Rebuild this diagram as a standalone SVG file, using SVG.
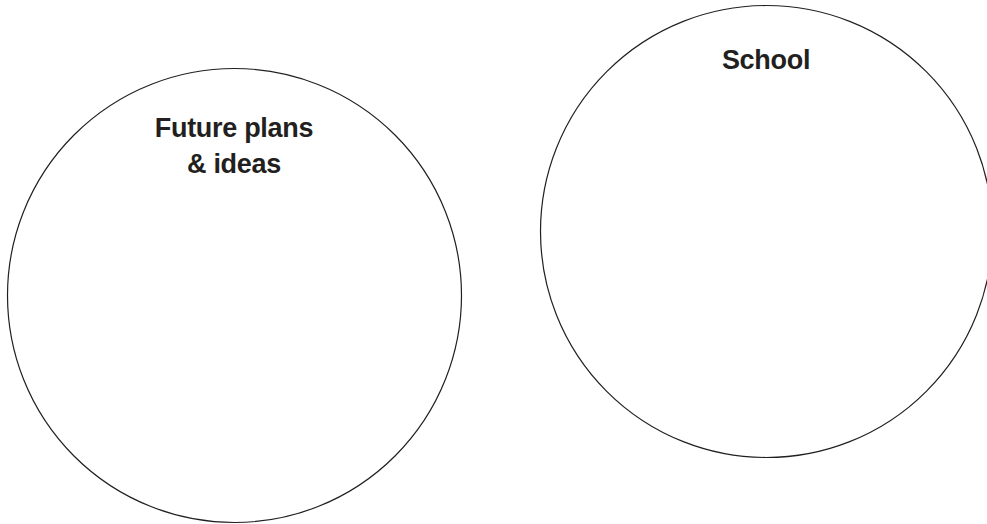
<svg xmlns="http://www.w3.org/2000/svg" width="987" height="524" viewBox="0 0 987 524">
<style>
.c{fill:none;stroke:#231f20;stroke-width:1.2}
.t{font-family:"Liberation Sans",Arial,sans-serif;font-weight:bold;font-size:27px;letter-spacing:-0.3px;fill:#231f20;text-anchor:middle}
</style>
<rect width="987" height="524" fill="#fff"/>
<g id="future">
<circle class="c" cx="234.5" cy="295.5" r="227"/>
<text class="t" x="234" y="137">Future plans</text>
<text class="t" x="234" y="173">&amp; ideas</text>
</g>
<g id="school">
<circle class="c" cx="766.5" cy="231.5" r="226"/>
<text class="t" x="766" y="69">School</text>
</g>
<g id="connectors"/>
</svg>
